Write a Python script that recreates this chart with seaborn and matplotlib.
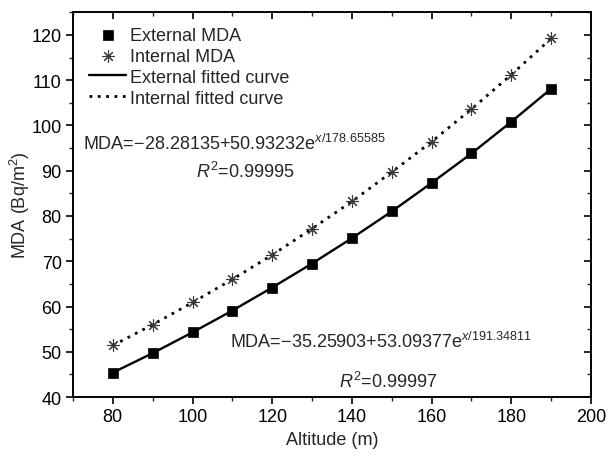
import numpy as np
import seaborn as sns
import matplotlib.pyplot as plt
from matplotlib.ticker import MultipleLocator

# Data
altitude = [80, 90, 100, 110, 120, 130, 140, 150, 160, 170, 180, 190]
external_mda = [45.4, 49.7, 54.3, 59.1, 64.2, 69.5, 75.1, 81.0, 87.3, 93.8, 100.8, 108.1]
internal_mda = [51.4, 56.0, 60.9, 66.0, 71.4, 77.2, 83.2, 89.7, 96.4, 103.6, 111.2, 119.2]
# fitted curves, read at the same altitudes
external_fit = [45.4, 49.7, 54.3, 59.1, 64.2, 69.5, 75.1, 81.0, 87.3, 93.8, 100.8, 108.1]
internal_fit = [51.4, 56.0, 60.9, 66.0, 71.4, 77.2, 83.2, 89.7, 96.4, 103.6, 111.2, 119.2]

sns.set_style('ticks')
plt.rcParams['font.family'] = ['Liberation Sans', 'DejaVu Sans']
plt.rcParams['mathtext.fontset'] = 'custom'
plt.rcParams['mathtext.rm'] = 'Liberation Sans'
plt.rcParams['mathtext.it'] = 'Liberation Sans:italic'

fs = 13

fig = plt.figure(figsize=(6.08, 4.56), dpi=100)
ax = fig.add_axes([0.12, 0.127, 0.852, 0.844])

# Fitted curves
sns.lineplot(x=altitude, y=external_fit, ax=ax, color='black', linewidth=1.7,
             label='External fitted curve', zorder=2)
sns.lineplot(x=altitude, y=internal_fit, ax=ax, color='black', linewidth=2.0,
             linestyle=(0, (1, 2)), label='Internal fitted curve', zorder=2)

# Measured points
sns.scatterplot(x=altitude, y=external_mda, ax=ax, marker='s', s=45, color='black',
                edgecolor='black', linewidth=0.5, label='External MDA', zorder=3)
sns.scatterplot(x=altitude, y=internal_mda, ax=ax, marker=(8, 2, 0), s=70,
                color='#3a3a3a', edgecolor='#3a3a3a', linewidth=0.8,
                label='Internal MDA', zorder=3)

ax.set_xlim(70, 200)
ax.set_ylim(40, 125)
ax.xaxis.set_major_locator(MultipleLocator(20))
ax.xaxis.set_minor_locator(MultipleLocator(10))
ax.yaxis.set_major_locator(MultipleLocator(10))
ax.yaxis.set_minor_locator(MultipleLocator(5))
ax.tick_params(axis='both', which='major', direction='out', length=5, width=1.2,
               labelsize=fs, colors='black', pad=3)
ax.tick_params(axis='both', which='minor', direction='out', length=3, width=1.0)
ax.tick_params(top=True, right=True, which='both')
# inward ticks on top and right
for t in ax.xaxis.get_major_ticks() + ax.xaxis.get_minor_ticks():
    t.tick2line.set_marker(3)
for t in ax.yaxis.get_major_ticks() + ax.yaxis.get_minor_ticks():
    t.tick2line.set_marker(0)
for sp in ax.spines.values():
    sp.set_visible(True)
    sp.set_linewidth(1.4)
    sp.set_color('black')

ax.set_xlabel('Altitude (m)', fontsize=fs, labelpad=4)
ax.set_ylabel('MDA (Bq/m$^2$)', fontsize=fs, labelpad=0)

handles, labels = ax.get_legend_handles_labels()
order = [2, 3, 0, 1]
ax.legend([handles[i] for i in order], [labels[i] for i in order], loc='upper left',
          bbox_to_anchor=(-0.003, 1.008), frameon=False, fontsize=fs, handlelength=2.05,
          handletextpad=0.2, labelspacing=0.22, borderaxespad=0.58, borderpad=0.4)

ax.text(72.5, 94.9, 'MDA=\u221228.28135+50.93232e$^{x\\mathrm{/178.65585}}$',
        fontsize=fs, va='baseline', ha='left')
ax.text(113.2, 88.5, '$R^{\\mathrm{2}}$=0.99995', fontsize=fs, va='baseline', ha='center')
ax.text(109.4, 51.0, 'MDA=\u221235.25903+53.09377e$^{x\\mathrm{/191.34811}}$',
        fontsize=fs, va='baseline', ha='left')
ax.text(149.0, 42.2, '$R^{\\mathrm{2}}$=0.99997', fontsize=fs, va='baseline', ha='center')

fig.savefig('out.png', dpi=100)
